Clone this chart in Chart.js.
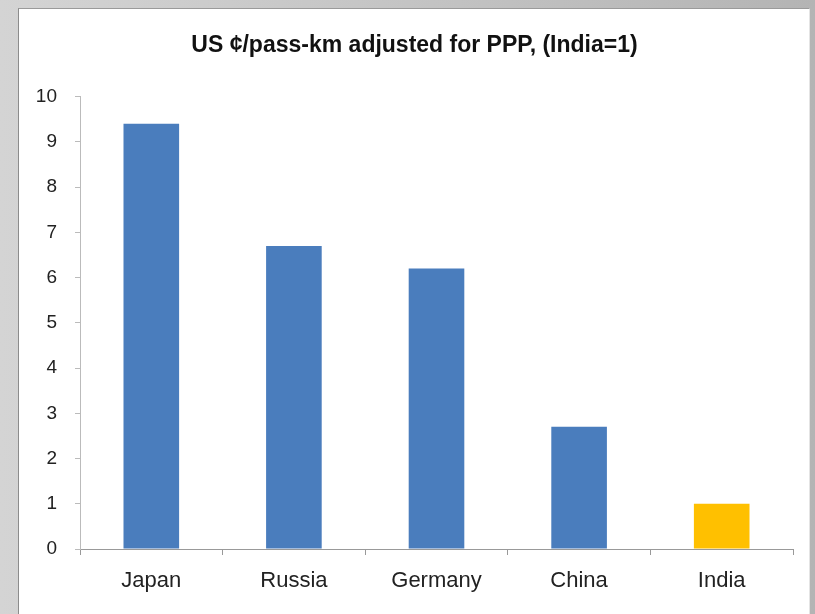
<!DOCTYPE html>
<html>
<head>
<meta charset="utf-8">
<script src="https://cdn.jsdelivr.net/npm/chart.js@4"></script>
<style>
    html, body { margin: 0; padding: 0; }
    body {
        width: 815px; height: 614px; position: relative; overflow: hidden;
        background: linear-gradient(to right, #d4d4d4, #b4b4b4);
    }
    #painel {
        position: absolute; left: 18px; top: 8px; width: 790px; height: 606px;
        background: #fff;
        border-left: 1px solid #8c8c8c;
        border-top: 1px solid #9a9a9a;
        border-right: 1px solid #e4e4e4;
    }
    #grafico { position: absolute; left: 0; top: 0; }
</style>
</head>
<body>
<div id="painel"></div>
<canvas id="grafico" width="815" height="614"></canvas>
<script>
// Dados do gráfico
const categorias = ['Japan', 'Russia', 'Germany', 'China', 'India'];
const valores = [9.4, 6.7, 6.2, 2.7, 1.0];
const ticksY = [0, 1, 2, 3, 4, 5, 6, 7, 8, 9, 10];
const titulo = 'US ¢/pass-km adjusted for PPP, (India=1)';

document.addEventListener('DOMContentLoaded', function() {
    const ctx = document.getElementById('grafico').getContext('2d');
    const fonte = "'Liberation Sans', Arial, sans-serif";

    new Chart(ctx, {
        type: 'bar',
        data: {
            labels: categorias,
            datasets: [{
                data: valores,
                // Índia em amarelo, o resto em azul
                backgroundColor: categorias.map(c => c === 'India' ? '#ffc000' : '#4a7dbd'),
                borderWidth: 0,
                barPercentage: 0.39,
                categoryPercentage: 1
            }]
        },
        options: {
            responsive: false,
            animation: false,
            // padding à esquerda para centralizar o título como no original
            layout: { padding: { left: 36, right: 22, top: 0, bottom: 0 } },
            plugins: {
                legend: { display: false },
                tooltip: { enabled: false },
                title: {
                    display: true,
                    text: titulo,
                    color: '#111',
                    font: { family: fonte, size: 23, weight: 'bold' },
                    padding: { top: 32, bottom: 37 }
                }
            },
            scales: {
                x: {
                    grid: { drawOnChartArea: false, offset: true, tickLength: 6, color: '#999' },
                    border: { color: '#999' },
                    ticks: { color: '#222', font: { family: fonte, size: 22 }, padding: 13 },
                    afterFit: function(s) { s.height = 65; }
                },
                y: {
                    min: ticksY[0],
                    max: ticksY[ticksY.length - 1],
                    afterBuildTicks: function(s) { s.ticks = ticksY.map(v => ({ value: v })); },
                    grid: { drawOnChartArea: false, tickLength: 5, color: '#bbb' },
                    border: { color: '#bbb' },
                    ticks: { color: '#222', font: { family: fonte, size: 19 }, padding: 18 },
                    afterFit: function(s) { s.width = 44; }
                }
            }
        }
    });
});
</script>
</body>
</html>
